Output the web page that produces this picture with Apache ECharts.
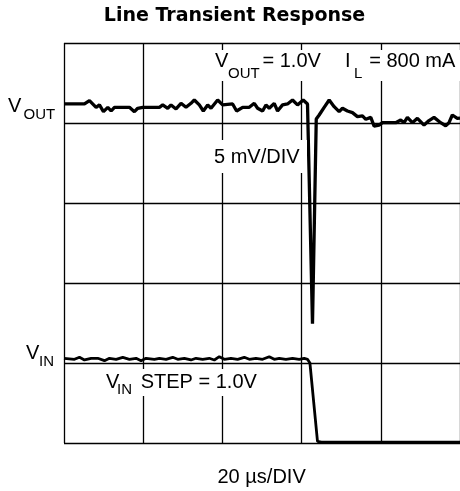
<!DOCTYPE html>
<html>
<head>
<meta charset="utf-8">
<script src="https://cdn.jsdelivr.net/npm/echarts@6/dist/echarts.min.js"></script>
<style>
html,body{margin:0;padding:0;background:#fff;}
#c{width:460px;height:491px;}
</style>
</head>
<body>
<div id="c"></div>
<script>
// Time axis: µs (20 µs/DIV), 5 divisions
const timeTicks = [0, 20, 40, 60, 80, 100];
// VOUT deviation in mV (5 mV/DIV), 0 = VOUT reference line
const voutTime = [0, 5.17, 6.43, 8.11, 8.95, 9.96, 11.06, 11.90, 12.74, 16.52, 17.78, 18.62, 19.88, 24.09, 24.93, 26.19, 27.03, 28.29, 29.55, 30.81, 32.07, 32.91, 34.17, 35.18, 36.28, 37.12, 38.80, 40.06, 42.58, 43.59, 45.11, 46.79, 48.05, 48.89, 50.15, 50.99, 51.83, 53.09, 53.93, 55.19, 56.45, 57.71, 58.97, 60.40, 61.49, 61.90, 62.75, 63.70, 64.44, 65.70, 66.96, 68.22, 69.48, 70.32, 71.58, 72.84, 74.10, 75.37, 76.21, 77.47, 78.31, 79.57, 80.41, 83.77, 85.03, 85.87, 86.71, 87.98, 89.24, 90.92, 92.18, 93.44, 95.12, 96.38, 97.22, 98.06, 99.32, 100];
const voutMv = [1.19, 1.19, 1.40, 0.98, 1.13, 0.71, 0.98, 0.75, 0.98, 0.98, 0.71, 0.92, 0.98, 0.98, 1.13, 0.92, 1.13, 0.88, 1.23, 0.98, 1.23, 1.44, 1.13, 0.75, 1.13, 0.92, 1.44, 1.13, 1.19, 0.75, 0.98, 0.98, 1.23, 0.92, 0.75, 1.13, 0.92, 1.23, 0.75, 1.13, 1.19, 1.44, 1.13, 1.44, 1.19, 1.15, -12.55, 0.25, 0.50, 0.98, 1.44, 1.02, 0.71, 0.92, 0.75, 0.65, 0.40, 0.44, 0.23, 0.35, -0.19, -0.13, 0.02, 0.02, 0.19, 0.02, 0.35, 0.02, 0.29, -0.13, 0.15, 0.35, 0.02, -0.17, 0.02, 0.50, 0.29, 0.30];
// VIN in V (1 V/DIV above bottom of screen)
const vinTime = [0, 2.65, 3.91, 5.17, 6.85, 8.53, 10.22, 11.48, 13.16, 14.84, 16.52, 18.20, 19.46, 20.72, 22.83, 24.09, 25.77, 27.45, 28.71, 30.39, 32.07, 33.33, 35.01, 36.69, 37.96, 39.22, 40.48, 42.16, 43.84, 45.52, 46.79, 48.47, 50.15, 51.83, 53.09, 54.35, 56.03, 57.71, 59.40, 60.66, 61.49, 62.10, 64.01, 65.0, 100];
const vinV = [1.059, 1.046, 1.071, 1.038, 1.059, 1.059, 1.029, 1.059, 1.046, 1.071, 1.046, 1.059, 1.029, 1.059, 1.046, 1.059, 1.046, 1.071, 1.046, 1.059, 1.038, 1.059, 1.046, 1.059, 1.038, 1.079, 1.046, 1.059, 1.046, 1.071, 1.046, 1.059, 1.046, 1.079, 1.046, 1.059, 1.046, 1.059, 1.046, 1.059, 1.046, 1.0, 0.02, 0.01, 0.01];

const FONT = "'Liberation Sans', Arial, sans-serif";
const zip = (a, b) => a.map((x, i) => [x, b[i]]);

function txt(text, x, y, size, opts) {
  opts = opts || {};
  return {
    type: 'text', x: x, y: y, z: 20,
    style: {
      text: text,
      font: (opts.bold ? 'bold ' : '') + size + 'px ' + (opts.family || FONT),
      fill: '#000',
      align: opts.align || 'left',
      verticalAlign: 'middle',
      textAlign: opts.align || 'left',
      textVerticalAlign: 'middle'
    }
  };
}
function mask(x, y, w, h) {
  return { type: 'rect', z: 5, shape: { x: x, y: y, width: w, height: h }, style: { fill: '#fff' } };
}

const chart = echarts.init(document.getElementById('c'), null, { renderer: 'canvas' });
chart.setOption({
  animation: false,
  backgroundColor: '#fff',
  grid: { left: 64, top: 43, width: 397, height: 400, containLabel: false },
  xAxis: {
    type: 'value', min: timeTicks[0], max: timeTicks[timeTicks.length - 1], interval: 20,
    axisLine: { show: false }, axisTick: { show: false }, axisLabel: { show: false },
    splitLine: { show: true, showMinLine: true, showMaxLine: true, lineStyle: { color: '#000', width: 1.3 } }
  },
  yAxis: [
    {
      type: 'value', min: -20, max: 5, interval: 5,
      axisLine: { show: false }, axisTick: { show: false }, axisLabel: { show: false },
      splitLine: { show: true, showMinLine: true, showMaxLine: true, lineStyle: { color: '#000', width: 1.3 } }
    },
    {
      type: 'value', min: 0, max: 5, interval: 1,
      axisLine: { show: false }, axisTick: { show: false }, axisLabel: { show: false },
      splitLine: { show: false }
    }
  ],
  series: [
    {
      name: 'VOUT', type: 'line', yAxisIndex: 0, data: zip(voutTime, voutMv),
      showSymbol: false, symbol: 'none', lineStyle: { color: '#000', width: 3.3 }, z: 3
    },
    {
      name: 'VIN', type: 'line', yAxisIndex: 1, data: zip(vinTime, vinV),
      showSymbol: false, symbol: 'none', lineStyle: { color: '#000', width: 2.8 }, z: 3
    }
  ],
  graphic: [
    mask(212, 50, 248, 31),
    mask(211, 140, 96, 33),
    mask(103, 369, 160, 27),
    txt('Line Transient Response', 234.5, 15.7, 19, { bold: true, align: 'center', family: "'DejaVu Sans', sans-serif" }),
    txt('20 µs/DIV', 217.5, 477.4, 20),
    txt('V', 215, 61.1, 20),
    txt('OUT', 228, 73.4, 15),
    txt('= 1.0V', 262.5, 61.1, 20),
    txt('I', 345, 61.1, 20),
    txt('L', 354, 73.4, 15),
    txt('= 800 mA', 369.2, 61.1, 20),
    txt('5 mV/DIV', 214, 157.4, 20),
    txt('V', 106, 382.7, 20),
    txt('IN', 117, 390, 15),
    txt('STEP = 1.0V', 140.7, 382.7, 20),
    txt('V', 8, 106.7, 20),
    txt('OUT', 23.5, 114.4, 15),
    txt('V', 26, 353.4, 20),
    txt('IN', 39, 361.7, 15)
  ]
});
</script>
</body>
</html>
